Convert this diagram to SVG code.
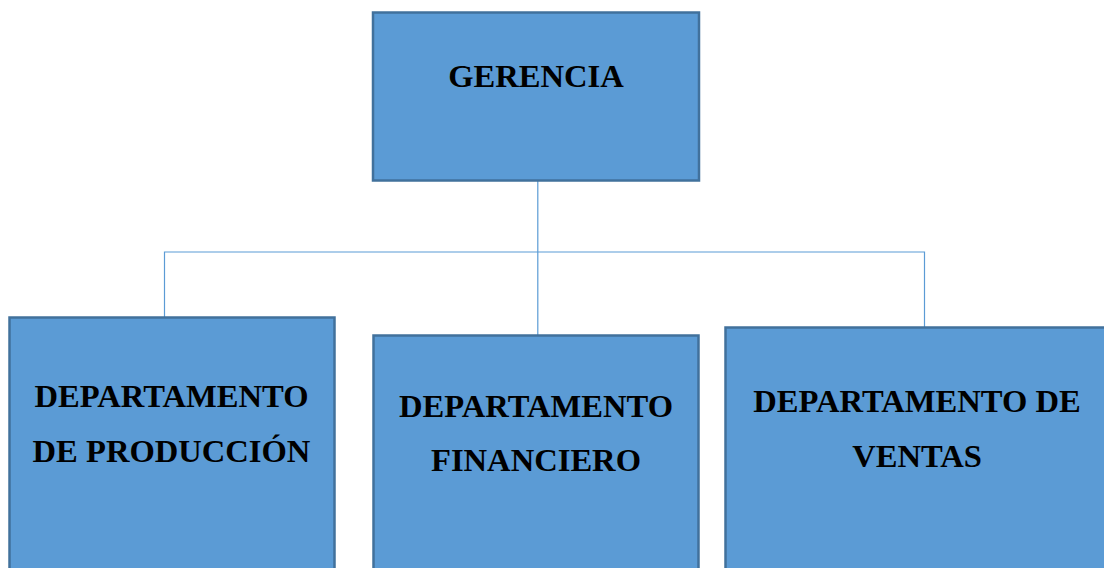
<svg xmlns="http://www.w3.org/2000/svg" width="1104" height="568" viewBox="0 0 1104 568">
<style>
.box{fill:#5B9BD5;stroke:#41719C;stroke-width:2.5}
.lbl{font-family:"Liberation Serif","Times New Roman",serif;font-weight:bold;font-size:32.6px;fill:#000;text-anchor:middle}
.con{fill:none;stroke:#5B9BD5;stroke-width:1.2}
</style>
<rect width="1104" height="568" fill="#fff"/>
<g id="connectors">
<path class="con" d="M537.8 181 V335"/>
<path class="con" d="M164.5 317 V252 H924.5 V327"/>
</g>
<g id="gerencia">
<rect class="box" x="373" y="12.5" width="326" height="168"/>
<text class="lbl" x="536" y="86.5">GERENCIA</text>
</g>
<g id="produccion">
<rect class="box" x="9.5" y="317.5" width="325" height="270"/>
<text class="lbl" x="171.5" y="406.5">DEPARTAMENTO</text>
<text class="lbl" x="171.5" y="461.5">DE PRODUCCIÓN</text>
</g>
<g id="financiero">
<rect class="box" x="373.5" y="335.5" width="325" height="260"/>
<text class="lbl" x="536" y="416.5">DEPARTAMENTO</text>
<text class="lbl" x="536" y="471">FINANCIERO</text>
</g>
<g id="ventas">
<rect class="box" x="725.5" y="327.5" width="384" height="260"/>
<text class="lbl" x="917" y="412">DEPARTAMENTO DE</text>
<text class="lbl" x="917" y="467">VENTAS</text>
</g>
</svg>
